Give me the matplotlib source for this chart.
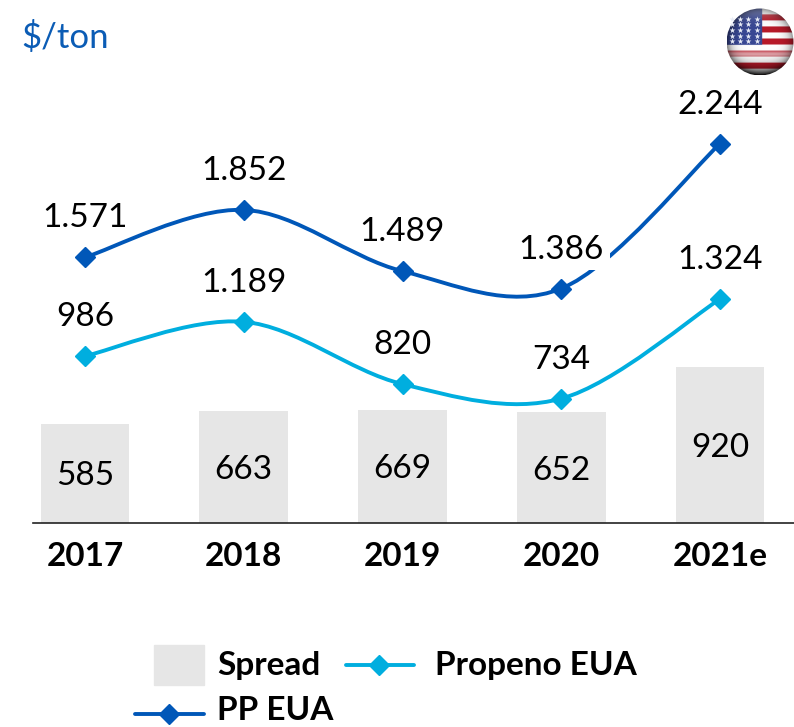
import numpy as np
import matplotlib.pyplot as plt
from matplotlib.lines import Line2D
from matplotlib.patches import Circle, PathPatch, Rectangle
from matplotlib.path import Path

anos = ["2017", "2018", "2019", "2020", "2021e"]
spread = [585, 663, 669, 652, 920]
propeno = [986, 1189, 820, 734, 1324]
pp = [1571, 1852, 1489, 1386, 2244]

COR_PP = "#0057B8"
COR_PROPENO = "#00AEDF"
COR_SPREAD = "#E6E6E6"
COR_TITULO = "#0B5CB5"

plt.rcParams["font.family"] = ["Lato", "DejaVu Sans"]


def milhar(valor):
    return f"{valor:,}".replace(",", ".")


def curva_suave(ax, xs, ys, cor):
    # spline igual a linha suavizada do PowerPoint (Catmull-Rom em Bezier)
    pts = np.column_stack([xs, ys]).astype(float)
    ext = np.vstack([pts[0], pts, pts[-1]])
    verts = [pts[0]]
    codes = [Path.MOVETO]
    for i in range(1, len(ext) - 2):
        verts.append(ext[i] + (ext[i + 1] - ext[i - 1]) / 6)
        verts.append(ext[i + 1] - (ext[i + 2] - ext[i]) / 6)
        verts.append(ext[i + 1])
        codes += [Path.CURVE4, Path.CURVE4, Path.CURVE4]
    ax.add_patch(PathPatch(Path(verts, codes), fill=False, edgecolor=cor, linewidth=2.8, zorder=3))


def bandeira(ax, cx, cy, r):
    # bola com a bandeira dos EUA, brilho e sombra feitos no proprio array
    n = 200
    u, v = np.meshgrid(np.linspace(-1, 1, n), np.linspace(-1, 1, n))
    rho = np.clip(np.sqrt(u ** 2 + v ** 2), 0, 1)
    img = np.ones((n, n, 3))
    faixa = np.floor((v + 1) / 2 * 11).astype(int) % 2 == 1
    img[faixa] = [0.72, 0.10, 0.16]
    canto = (u < 0.05) & (v < 0.10)
    img[canto] = [0.22, 0.28, 0.58]
    brilho = np.exp(-((v - 0.38) / 0.10) ** 2)[..., None] * 0.6
    img = img * (1 - brilho) + brilho
    topo = np.exp(-((v + 0.95) / 0.25) ** 2)[..., None] * 0.3
    img = img * (1 - topo) + topo
    sombra = (1 - 0.45 * rho ** 6 - 0.5 * np.clip(v, 0, 1) ** 3)[..., None]
    img = np.clip(img * sombra, 0, 1)
    im = ax.imshow(img, extent=[cx - r, cx + r, cy + r, cy - r], zorder=2, aspect="auto")
    im.set_clip_path(Circle((cx, cy), r, transform=ax.transData))
    sx, sy = np.meshgrid(np.linspace(-0.85, -0.1, 4), np.linspace(-0.7, -0.02, 5))
    ax.scatter(cx + sx.ravel() * r, cy + sy.ravel() * r, marker="*", s=20, color="#E8ECF6", linewidths=0, zorder=3)


fig = plt.figure(figsize=(7.94, 7.27), dpi=100)
ax = fig.add_axes([33 / 794, 204.5 / 727, 761 / 794, 522.5 / 727])

x = np.arange(len(anos))
barras = ax.bar(x, spread, width=0.56, color=COR_SPREAD, zorder=1)
ax.bar_label(barras, labels=[milhar(v) for v in spread], label_type="center", padding=-2.2, fontsize=24, color="black")

curva_suave(ax, x, propeno, COR_PROPENO)
curva_suave(ax, x, pp, COR_PP)
ax.plot(x, propeno, ls="none", marker="D", ms=10, color=COR_PROPENO, zorder=4)
ax.plot(x, pp, ls="none", marker="D", ms=10, color=COR_PP, zorder=4)

for serie in (propeno, pp):
    for xi, valor in zip(x, serie):
        caixa = None
        if serie is pp and anos[xi] == "2020":
            caixa = dict(facecolor="white", edgecolor="none", pad=4)
        ax.annotate(milhar(valor), (xi, valor), xytext=(0, 28), textcoords="offset points",
                    ha="center", va="center", fontsize=24, color="black", bbox=caixa, zorder=5)

ax.set_xlim((33 - 85) / 158.75, (794 - 85) / 158.75)
ax.set_ylim(0, 522.5 / 0.1688)
ax.set_yticks([])
ax.set_xticks(x)
ax.set_xticklabels(anos, fontsize=24, fontweight="bold")
ax.tick_params(axis="x", length=0, pad=14)
for lado in ("top", "left", "right"):
    ax.spines[lado].set_visible(False)
ax.spines["bottom"].set_linewidth(1.2)
ax.spines["bottom"].set_color("#222222")
ax.patch.set_visible(False)

# camada em pixels para titulo, bandeira e legenda
topo = fig.add_axes([0, 0, 1, 1], zorder=5)
topo.set_xlim(0, 794)
topo.set_ylim(727, 0)
topo.axis("off")
topo.text(21, 38, "$/ton", fontsize=25, color=COR_TITULO, ha="left", va="center", parse_math=False)
bandeira(topo, 760, 42, 33.5)
topo.set_xlim(0, 794)
topo.set_ylim(727, 0)

topo.add_patch(Rectangle((154, 645), 50, 40, color=COR_SPREAD))
topo.add_line(Line2D([346, 414], [665, 665], color=COR_PROPENO, lw=2.8, solid_capstyle="round"))
topo.add_line(Line2D([135, 204], [714, 714], color=COR_PP, lw=2.8, solid_capstyle="round"))
topo.plot([379], [665], marker="D", ms=10, color=COR_PROPENO)
topo.plot([169], [714], marker="D", ms=10, color=COR_PP)
topo.text(217, 666, "Spread", fontsize=24, fontweight="bold", ha="left", va="center")
topo.text(435, 666, "Propeno EUA", fontsize=24, fontweight="bold", ha="left", va="center")
topo.text(217, 711, "PP EUA", fontsize=24, fontweight="bold", ha="left", va="center")

fig.savefig("out.png", dpi=100)
